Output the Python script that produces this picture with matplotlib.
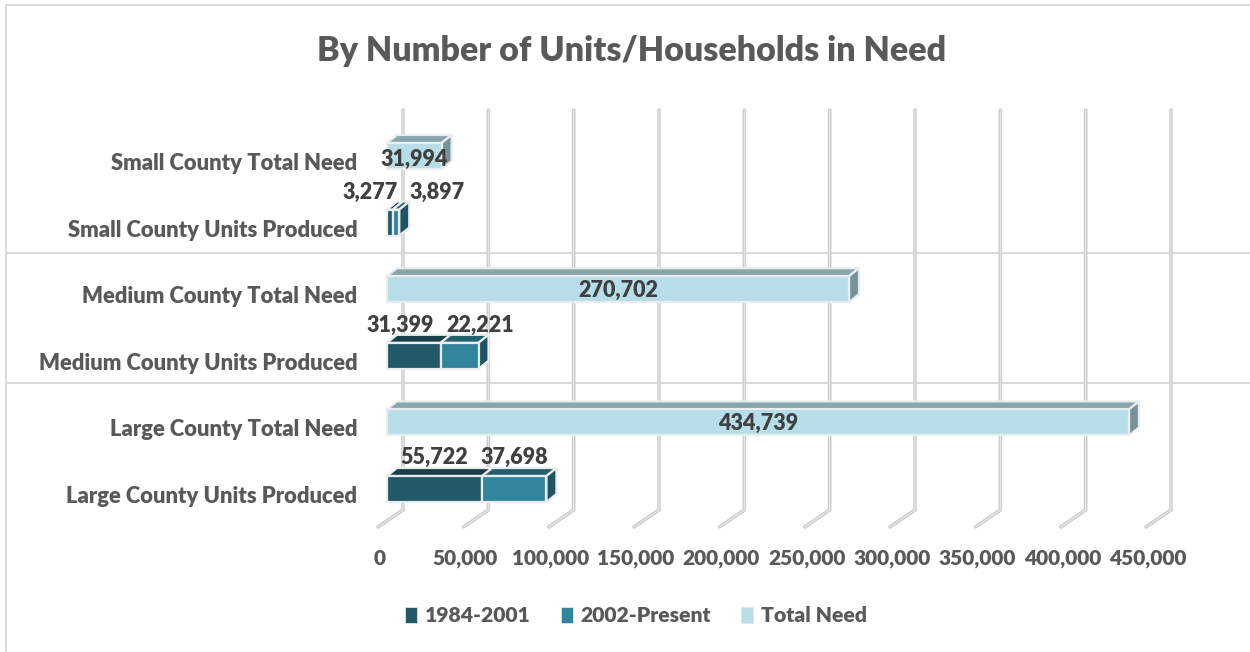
#!/usr/bin/env python
"""Horizontal stacked pseudo-3D bars: county housing units produced vs total need."""
import matplotlib
matplotlib.use("Agg")
import matplotlib.pyplot as plt
from matplotlib.lines import Line2D
from matplotlib.patches import Patch, Polygon
from matplotlib.transforms import ScaledTranslation

categories = [
    "Large County Units Produced",
    "Large County Total Need",
    "Medium County Units Produced",
    "Medium County Total Need",
    "Small County Units Produced",
    "Small County Total Need",
]
series_names = ["1984-2001", "2002-Present", "Total Need"]
early_units = [55722, 0, 31399, 0, 3277, 0]
late_units = [37698, 0, 22221, 0, 3897, 0]
total_need = [0, 434739, 0, 270702, 0, 31994]
x_ticks = [0, 50000, 100000, 150000, 200000, 250000, 300000, 350000, 400000, 450000]

W, H = 1250, 652
AX_LEFT, AX_RIGHT, AX_TOP, AX_BOTTOM = 387, 1155, 105, 530
ROW_PX = 66.6
ZERO_ROW_PX = 489
PX_X = 450000 / (AX_RIGHT - AX_LEFT)  # data units per pixel
BAR_H = 26 / ROW_PX
DEPTH_X, DEPTH_Y = 10 * PX_X, 8 / ROW_PX

TEXT_DARK = "#404040"
TEXT_GREY = "#595959"
GRID = "#CDCDCD"
plt.rcParams["font.family"] = ["Lato", "DejaVu Sans"]
plt.rcParams["font.weight"] = "heavy"

# front, top, side colours per series
FACES = [
    ("#215968", "#173F4A", "#173F4A"),
    ("#31859C", "#23606F", "#1D5563"),
    ("#B7DEE8", "#88A6AE", "#76929B"),
]
EDGE = "#E9EDEE"


def draw_bar(ax, row, start, value, faces, draw_side=True):
    end = start + value
    lo, hi = row - BAR_H / 2, row + BAR_H / 2
    style = dict(edgecolor=EDGE, linewidth=1.6, joinstyle="round", zorder=3, clip_on=False)
    ax.add_patch(Polygon([(start, hi), (end, hi), (end + DEPTH_X, hi + DEPTH_Y),
                          (start + DEPTH_X, hi + DEPTH_Y)], facecolor=faces[1], **style))
    if draw_side:
        ax.add_patch(Polygon([(end, lo), (end + DEPTH_X, lo + DEPTH_Y),
                              (end + DEPTH_X, hi + DEPTH_Y), (end, hi)], facecolor=faces[2], **style))
    ax.add_patch(Polygon([(start, lo), (end, lo), (end, hi), (start, hi)], facecolor=faces[0], **style))


def bar_label(ax, x, row, value, dx, dy):
    # dx, dy in pixels, dy up
    ax.annotate(f"{value:,}", (x, row), xytext=(dx * 0.72, dy * 0.72), textcoords="offset points",
                ha="center", va="center", fontsize=15.5, color=TEXT_DARK, zorder=6)


fig = plt.figure(figsize=(W / 100, H / 100), dpi=100, facecolor="white")
ax = fig.add_axes([AX_LEFT / W, 1 - AX_BOTTOM / H, (AX_RIGHT - AX_LEFT) / W, (AX_BOTTOM - AX_TOP) / H])
ax.set_xlim(0, 450000)
ax.set_ylim((ZERO_ROW_PX - AX_BOTTOM) / ROW_PX, (ZERO_ROW_PX - AX_TOP) / ROW_PX)
ax.patch.set_visible(False)
for spine in ax.spines.values():
    spine.set_visible(False)

# back wall and floor grid
wall_top, wall_bottom, floor_front = 5.69, -0.315, -0.57
for tick in x_ticks:
    back = tick + 16 * PX_X
    front = tick - 9 * PX_X
    ax.plot([back, back, front], [wall_top, wall_bottom, floor_front], color=GRID, lw=2.6,
            solid_capstyle="round", solid_joinstyle="miter", zorder=1, clip_on=False)
    ax.plot([back, back, front], [wall_top, wall_bottom, floor_front], color="#EFEFEF", lw=0.6,
            zorder=1.1, clip_on=False)

# group separators
for sep in [1.59, 3.54]:
    ax.plot([-380 * PX_X, (W - AX_LEFT) * PX_X], [sep, sep], color="#D9D9D9", lw=1.4, zorder=0.5, clip_on=False)

for i in range(len(categories)):
    if total_need[i]:
        draw_bar(ax, i, 0, total_need[i], FACES[2])
    else:
        draw_bar(ax, i, 0, early_units[i], FACES[0], draw_side=False)
        draw_bar(ax, i, early_units[i], late_units[i], FACES[1])

# data labels, nudged by hand as in the original
bar_label(ax, total_need[5] / 2, 5, total_need[5], 0, -3)
bar_label(ax, total_need[3] / 2, 3, total_need[3], 0, -1)
bar_label(ax, total_need[1] / 2, 1, total_need[1], 0, -1)
bar_label(ax, early_units[0] / 2, 0, early_units[0], 0, 32)
bar_label(ax, early_units[0] + late_units[0] / 2, 0, late_units[0], 0, 32)
bar_label(ax, early_units[2] / 2, 2, early_units[2], -14, 30)
bar_label(ax, early_units[2] + late_units[2] / 2, 2, late_units[2], 21, 30)
bar_label(ax, early_units[4] / 2, 4, early_units[4], -20, 30)
bar_label(ax, early_units[4] + late_units[4] / 2, 4, late_units[4], 41, 30)

ax.set_yticks(range(len(categories)), categories, fontsize=15.8, color=TEXT_GREY)
ax.set_xticks(x_ticks, [f"{t:,}" for t in x_ticks], fontsize=15, color=TEXT_GREY)
ax.tick_params(axis="both", length=0)
ax.tick_params(axis="y", pad=21.5)
ax.tick_params(axis="x", pad=14)
for label in ax.get_xticklabels():
    label.set_transform(label.get_transform() + ScaledTranslation(-7 / 100, 0, fig.dpi_scale_trans))
for label in ax.get_yticklabels():
    label.set_transform(label.get_transform() + ScaledTranslation(0, -5.5 / 100, fig.dpi_scale_trans))

fig.text(631.5 / W, 1 - 51 / H, "By Number of Units/Households in Need", ha="center", va="center",
         fontsize=24.5, color=TEXT_GREY)

handles = [Patch(facecolor=f[0], edgecolor="#E0E6E8", linewidth=0.6) for f in FACES]
fig.legend(handles, series_names, loc="center", bbox_to_anchor=(636 / W, 1 - 616 / H), ncol=3, frameon=False,
           fontsize=15.2, labelcolor=TEXT_GREY, handlelength=0.55, handleheight=0.8, handletextpad=0.37,
           columnspacing=1.45)

# chart frame
fig.add_artist(Line2D([6 / W, 6 / W], [0, 1 - 5 / H], color="#D9D9D9", lw=1.4))
fig.add_artist(Line2D([5.5 / W, 1], [1 - 5 / H, 1 - 5 / H], color="#D9D9D9", lw=1.4))

fig.savefig("out.png", dpi=100)
